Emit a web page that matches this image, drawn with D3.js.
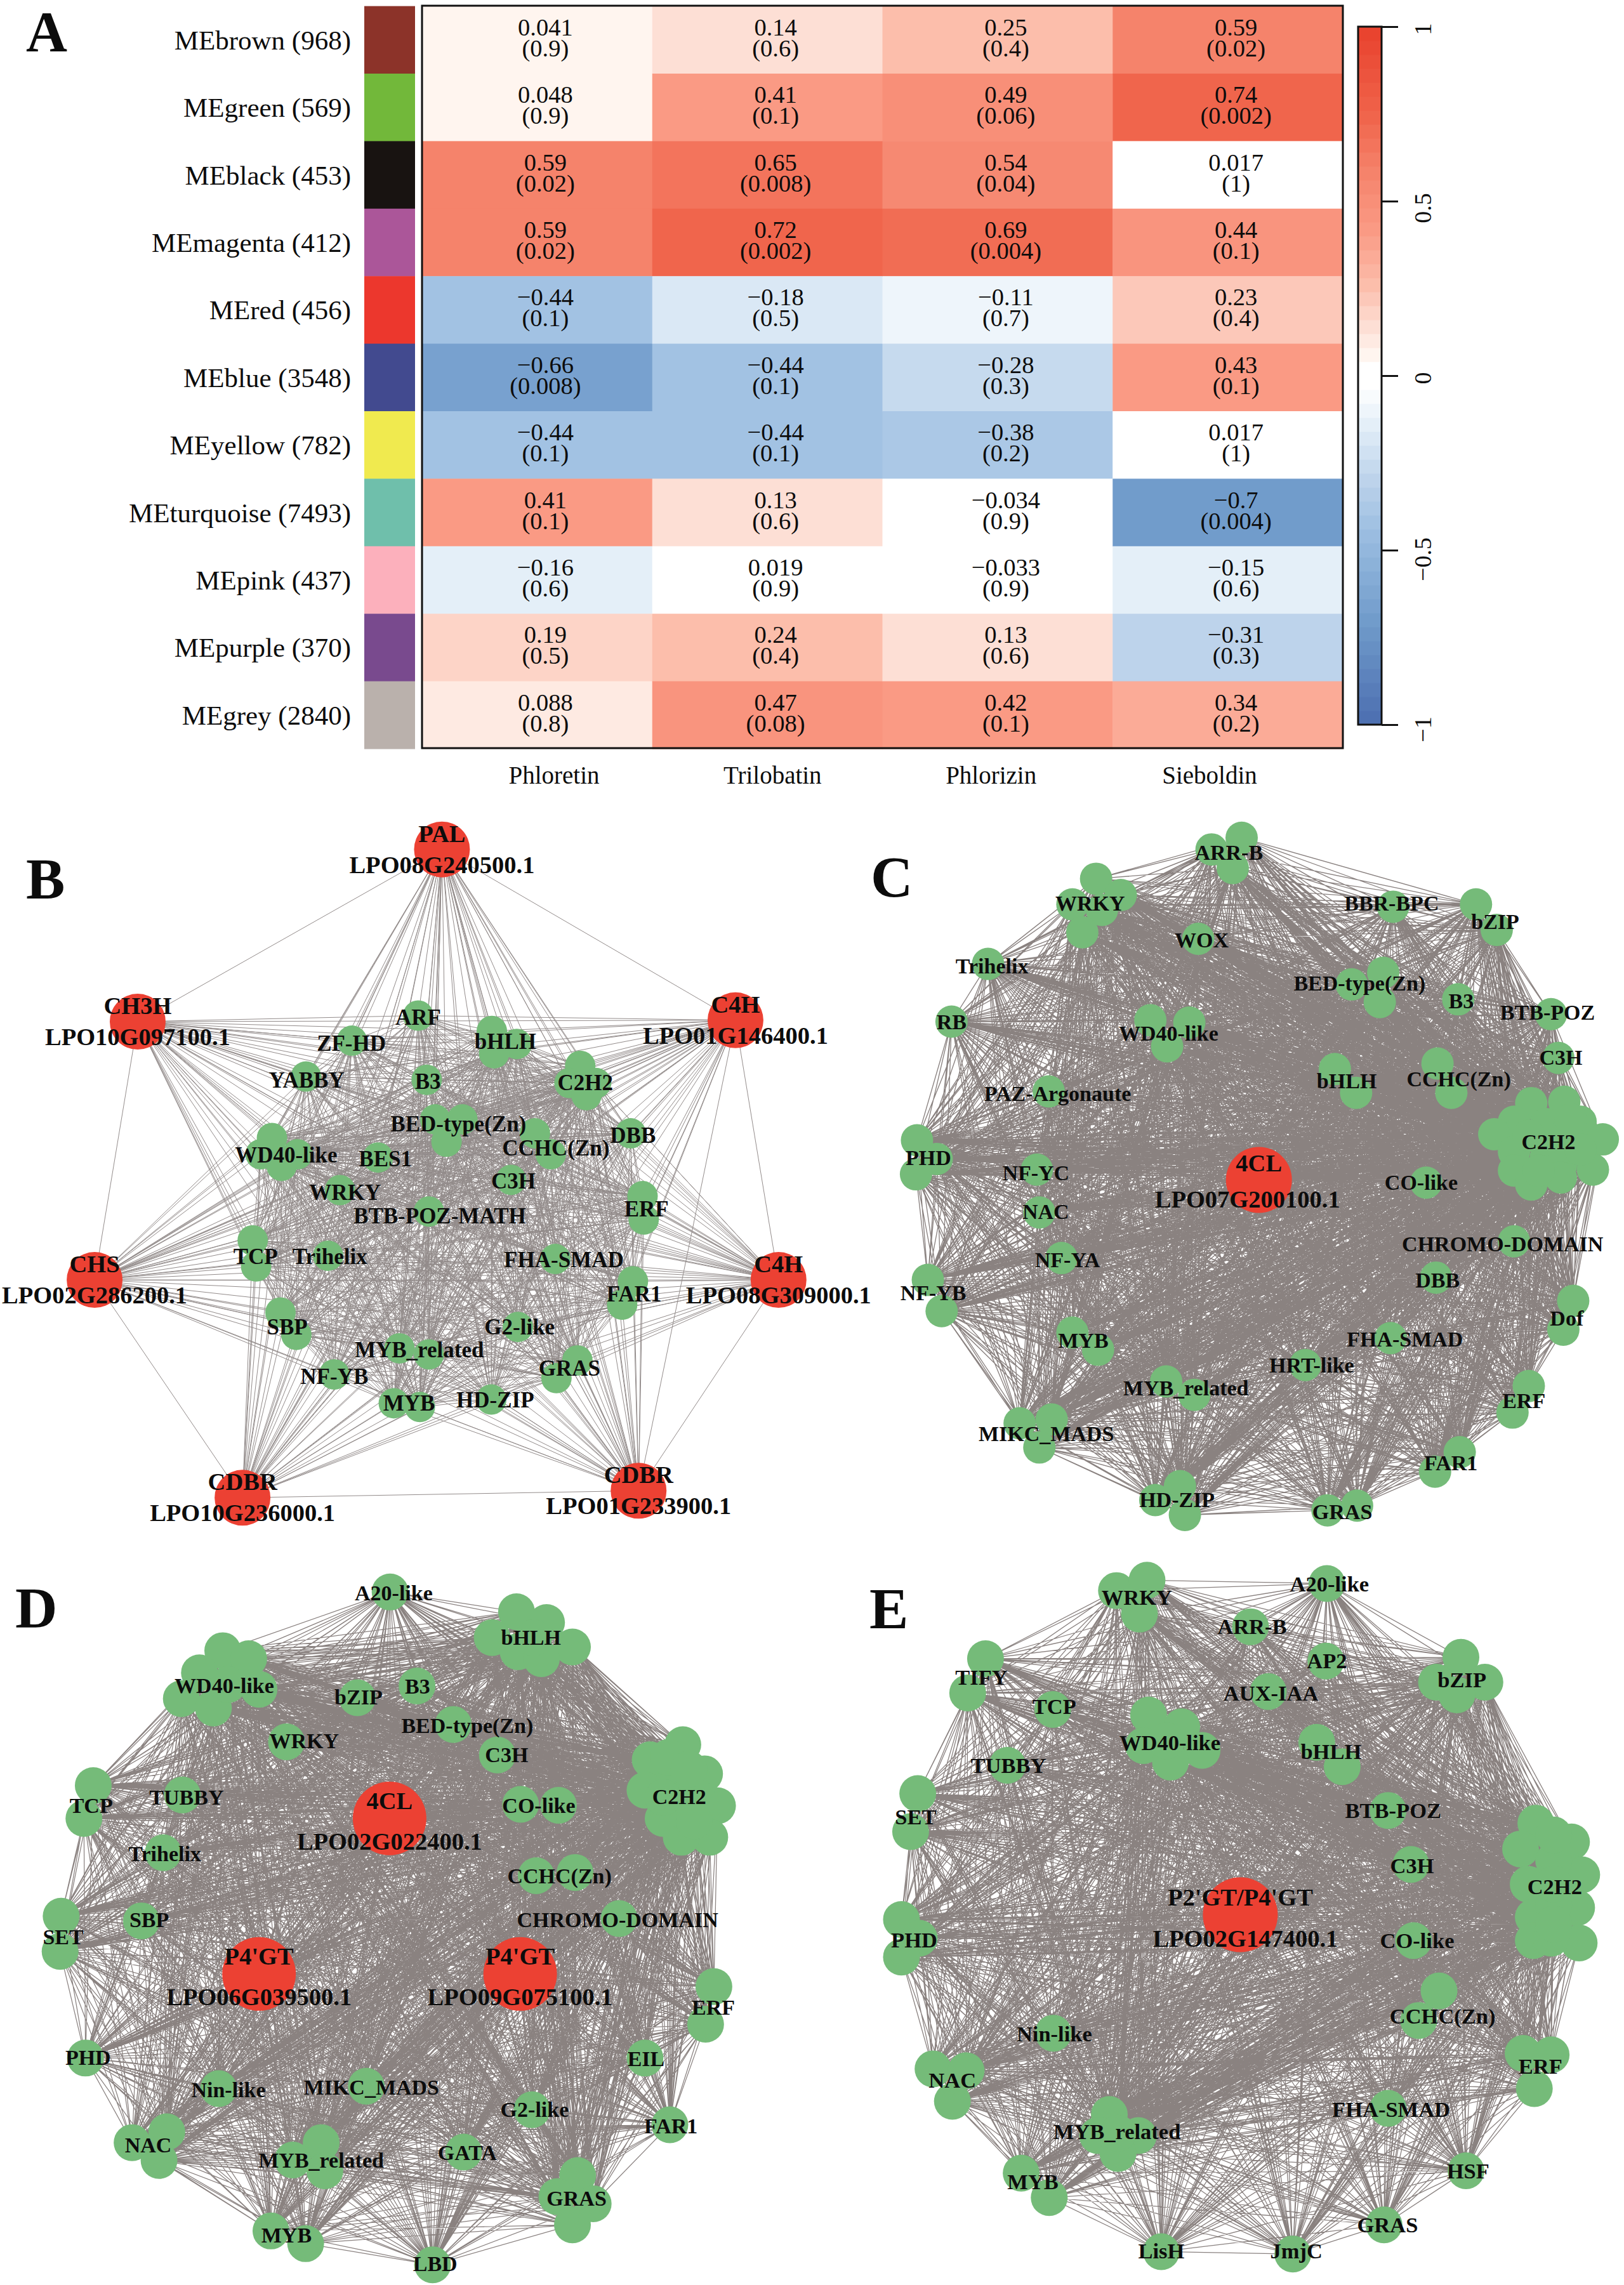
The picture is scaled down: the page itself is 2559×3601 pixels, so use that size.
<!DOCTYPE html>
<html><head><meta charset="utf-8">
<script src="https://cdn.jsdelivr.net/npm/d3@7"></script>
<style>html,body{margin:0;background:#fff}svg{display:block}text{font-family:"Liberation Serif",serif;fill:#0c0c0c}</style>
</head><body><svg id="c" width="2559" height="3601" viewBox="0 0 2559 3601"></svg>
<script>
// ---- Panel A data ----
const modules = ["MEbrown (968)","MEgreen (569)","MEblack (453)","MEmagenta (412)","MEred (456)","MEblue (3548)","MEyellow (782)","MEturquoise (7493)","MEpink (437)","MEpurple (370)","MEgrey (2840)"];
const moduleColors = ["#8c3329","#72b83a","#181311","#ab5699","#ec372d","#424a8f","#f0ea4f","#6fbfab","#fcb0bc","#794a8e","#bab1ac"];
const compounds = ["Phloretin","Trilobatin","Phlorizin","Sieboldin"];
const corPhloretin  = [0.041,0.048,0.59,0.59,-0.44,-0.66,-0.44,0.41,-0.16,0.19,0.088];
const corTrilobatin = [0.14,0.41,0.65,0.72,-0.18,-0.44,-0.44,0.13,0.019,0.24,0.47];
const corPhlorizin  = [0.25,0.49,0.54,0.69,-0.11,-0.28,-0.38,-0.034,-0.033,0.13,0.42];
const corSieboldin  = [0.59,0.74,0.017,0.44,0.23,0.43,0.017,-0.7,-0.15,-0.31,0.34];
const pPhloretin  = ["0.9","0.9","0.02","0.02","0.1","0.008","0.1","0.1","0.6","0.5","0.8"];
const pTrilobatin = ["0.6","0.1","0.008","0.002","0.5","0.1","0.1","0.6","0.9","0.4","0.08"];
const pPhlorizin  = ["0.4","0.06","0.04","0.004","0.7","0.3","0.2","0.9","0.9","0.6","0.1"];
const pSieboldin  = ["0.02","0.002","1","0.1","0.4","0.1","1","0.004","0.6","0.3","0.2"];
const colorbarTicks = [-1,-0.5,0,0.5,1];
const rampStops  = [-1,-0.7,-0.44,-0.28,-0.16,-0.03,0.03,0.06,0.14,0.25,0.41,0.59,0.74,1];
const rampColors = ["#4b6eb0","#719ccb","#9dbfe2","#c1d6ec","#dfecf7","#ffffff","#ffffff","#fff5ef","#fddfd5","#fcc0ae","#fa9b85","#f5826a","#f0654c","#e8412d"];

// ---- Network data: [family, labelX, labelY, members] in layout units of each panel ----
const panelBHubs = [["PAL","LPO08G240500.1",780,80],["CH3H","LPO10G097100.1",243,450],["C4H","LPO01G146400.1",1298,447],["CHS","LPO02G286200.1",167,1005],["C4H","LPO08G309000.1",1374,1005],["CDBR","LPO10G236000.1",428,1473],["CDBR","LPO01G233900.1",1127,1458]];
const panelBHubLinks = [[0,1],[0,2],[1,2],[1,3],[2,4],[3,4],[3,5],[4,6],[5,6],[2,6]];
const panelBFamilies = [
["ARF",738,440,[[738,437]]],["ZF-HD",620,496,[[621,491]]],["bHLH",892,492,[[868,470],[912,498],[872,518]]],["YABBY",541,575,[[540,568]]],["B3",755,578,[[753,575]]],
["C2H2",1033,581,[[1024,545],[1005,582],[1052,582],[1035,608]]],["BED-type(Zn)",809,670,[[768,660],[816,660],[788,708]]],["DBB",1117,694,[[1113,690]]],["CCHC(Zn)",981,722,[[944,690],[972,735]]],
["WD40-like",505,737,[[480,700],[460,735],[497,760],[525,735]]],["BES1",680,745,[[667,742]]],["C3H",906,792,[[902,790]]],["WRKY",609,817,[[600,812]]],["BTB-POZ-MATH",776,867,[[757,858]]],
["ERF",1141,852,[[1134,825],[1136,875]]],["TCP",451,955,[[446,920],[452,976]]],["Trihelix",582,955,[[579,953]]],["FHA-SMAD",995,962,[[980,960]]],["FAR1",1119,1035,[[1117,1008],[1098,1058]]],
["SBP",507,1106,[[495,1075],[523,1123]]],["G2-like",917,1106,[[914,1106]]],["MYB_related",740,1155,[[705,1152],[757,1165]]],["GRAS",1005,1195,[[1019,1178],[982,1216]]],["NF-YB",590,1212,[[590,1208]]],
["HD-ZIP",874,1263,[[867,1262]]],["MYB",722,1270,[[695,1270],[741,1278]]]];

const panelCHubs = [["4CL","LPO07G200100.1",828,790]];
const panelCFamilies = [
["ARR-B",767,86,[[793,55],[732,80],[775,120]]],["WRKY",486,195,[[498,143],[548,178],[450,198],[510,210],[470,258]]],["BBR-BPC",1097,195,[[1100,203]]],["bZIP",1307,235,[[1268,198],[1310,253]]],["WOX",712,274,[[705,272]]],
["Trihelix",287,330,[[279,326]]],["BED-type(Zn)",1032,367,[[1016,370],[1080,345],[1073,408]]],["B3",1238,405,[[1232,402]]],["BTB-POZ",1413,430,[[1420,434]]],["RB",205,450,[[205,450]]],
["WD40-like",645,475,[[608,447],[687,452],[642,503]]],["C3H",1440,527,[[1435,528]]],["bHLH",1006,578,[[982,552],[1025,603]]],["CCHC(Zn)",1233,573,[[1190,540],[1218,603]]],["PAZ-Argonaute",420,605,[[402,600]]],
["C2H2",1415,708,[[1380,625],[1447,622],[1345,665],[1305,692],[1410,670],[1480,665],[1525,703],[1345,730],[1410,740],[1440,760],[1505,768],[1345,770],[1380,800],[1440,785],[1375,695],[1440,700],[1480,725],[1395,770],[1460,660]]],
["PHD",158,742,[[135,705],[175,745],[133,778]]],["NF-YC",376,775,[[378,768]]],["CO-like",1157,795,[[1167,796]]],["NAC",396,858,[[383,860]]],["CHROMO-DOMAIN",1322,928,[[1345,922]]],["NF-YA",440,962,[[428,958]]],["DBB",1190,1005,[[1187,1000]]],
["NF-YB",168,1033,[[157,1005],[185,1072]]],["Dof",1452,1087,[[1465,1050],[1445,1112]]],["MYB",472,1135,[[450,1118],[502,1155]]],["FHA-SMAD",1124,1132,[[1095,1130]]],["HRT-like",935,1188,[[922,1188]]],["MYB_related",680,1237,[[640,1223],[697,1252]]],
["ERF",1365,1265,[[1375,1233],[1342,1290]]],["MIKC_MADS",397,1335,[[343,1313],[408,1305],[383,1365]]],["FAR1",1217,1398,[[1235,1375],[1185,1417]]],["HD-ZIP",662,1477,[[668,1448],[618,1478],[678,1510]]],["GRAS",997,1503,[[967,1500],[1027,1490]]]];

const panelDHubs = [["4CL","LPO02G022400.1",752,575],["P4'GT","LPO06G039500.1",500,906],["P4'GT","LPO09G075100.1",1004,906]];
const panelDFamilies = [
["A20-like",760,95,[[753,93]]],["bHLH",1025,190,[[997,135],[1055,158],[950,190],[1105,210],[1000,220],[1045,235],[1030,190]]],["WD40-like",433,292,[[430,218],[480,235],[385,265],[350,320],[500,300],[412,340],[440,290]]],["B3",806,293,[[805,293]]],["bZIP",692,317,[[690,318]]],
["BED-type(Zn)",902,377,[[875,375]]],["WRKY",587,410,[[553,412]]],["C3H",978,439,[[960,440]]],["C2H2",1311,528,[[1318,418],[1255,450],[1360,480],[1245,515],[1385,548],[1280,575],[1370,615],[1315,615],[1300,500],[1310,555],[1345,530],[1290,445],[1340,580],[1280,530],[1330,470]]],
["TCP",176,548,[[180,505],[162,575]]],["TUBBY",360,530,[[352,525]]],["CO-like",1040,548,[[1005,545],[1078,547]]],["Trihelix",318,650,[[315,648]]],["CCHC(Zn)",1080,697,[[1035,697],[1110,690]]],["SBP",288,790,[[273,793]]],["CHROMO-DOMAIN",1192,790,[[1195,788]]],
["SET",122,827,[[118,783],[116,858]]],["ERF",1377,977,[[1378,933],[1362,1013]]],["PHD",170,1084,[[165,1085]]],["EIL",1247,1086,[[1245,1085]]],["Nin-like",441,1152,[[422,1150]]],["MIKC_MADS",717,1147,[[707,1145]]],["G2-like",1032,1195,[[1027,1195]]],["FAR1",1295,1230,[[1293,1227]]],
["NAC",286,1270,[[255,1265],[322,1242],[307,1303]]],["MYB_related",620,1303,[[620,1265],[565,1302],[627,1325]]],["GATA",902,1287,[[895,1285]]],["GRAS",1113,1384,[[1115,1335],[1075,1380],[1145,1395],[1105,1440]]],["MYB",553,1462,[[523,1453],[590,1480]]],["LBD",840,1523,[[835,1525]]]];

const panelEHubs = [["P2'GT/P4'GT","LPO02G147400.1",815,780]];
const panelEFamilies = [
["WRKY",612,105,[[572,90],[632,68],[617,140]]],["A20-like",990,76,[[985,75]]],["ARR-B",838,167,[[835,167]]],["AP2",985,240,[[983,240]]],["bZIP",1250,280,[[1248,232],[1200,285],[1295,285],[1240,312]]],["TIFY",307,275,[[315,235],[280,308]]],["AUX-IAA",875,308,[[870,305]]],["TCP",450,336,[[447,343]]],
["WD40-like",677,413,[[635,355],[700,380],[625,420],[740,430],[678,455],[670,410]]],["bHLH",993,433,[[965,413],[1015,465]]],["TUBBY",360,462,[[358,462]]],["SET",178,572,[[182,522],[168,603]]],["BTB-POZ",1115,558,[[1105,558]]],
["C2H2",1432,720,[[1395,585],[1465,625],[1365,640],[1485,695],[1380,715],[1475,765],[1390,785],[1480,840],[1390,835],[1430,760],[1430,665],[1425,830],[1430,610],[1430,715],[1430,800]]],["C3H",1152,675,[[1150,673]]],["PHD",175,833,[[150,790],[185,830],[150,870]]],["CO-like",1162,835,[[1155,835]]],["CCHC(Zn)",1212,996,[[1205,942],[1165,1005]]],["Nin-like",450,1033,[[448,1032]]],
["ERF",1404,1103,[[1370,1075],[1425,1078],[1392,1150]]],["NAC",250,1132,[[212,1108],[277,1112],[250,1177]]],["FHA-SMAD",1111,1194,[[1105,1192]]],["MYB_related",573,1241,[[558,1205],[535,1250],[615,1250],[575,1288],[575,1245]]],["HSF",1262,1325,[[1258,1325]]],["MYB",408,1348,[[385,1330],[440,1382]]],["GRAS",1104,1440,[[1097,1440]]],["LisH",660,1495,[[660,1497]]],["JmjC",925,1495,[[918,1502]]]];

const svg = d3.select("#c");
const minus = s => String(s).replace("-","\u2212");

// ---- Panel A ----
(function(){
  const corr=[corPhloretin,corTrilobatin,corPhlorizin,corSieboldin], pv=[pPhloretin,pTrilobatin,pPhlorizin,pSieboldin];
  const x=d3.scaleBand().domain(compounds).range([665,2116]);
  const y=d3.scaleBand().domain(modules).range([9.6,1180]);
  const ramp=d3.scaleLinear().domain(rampStops).range(rampColors).interpolate(d3.interpolateRgb);
  const bands=50, step=2/bands;
  const band=i=>-1+step*(i+0.5);
  const col=v=>ramp(band(Math.min(bands-1,Math.floor((v+1)/step))));
  const A=svg.append("g").attr("id","panelA");
  A.append("text").text("A").attr("x",41).attr("y",81).attr("font-size",90).attr("font-weight",700);
  A.selectAll(".sw").data(modules).join("rect").attr("x",574).attr("width",80).attr("y",d=>y(d)).attr("height",y.bandwidth()+.5).attr("fill",(d,i)=>moduleColors[i]);
  A.selectAll(".rl").data(modules).join("text").text(d=>d).attr("x",553).attr("y",d=>y(d)+y.bandwidth()/2+15).attr("text-anchor","end").attr("font-size",43);
  compounds.forEach((c,ci)=>{
    const g=A.append("g");
    g.selectAll("rect").data(modules).join("rect").attr("x",x(c)).attr("width",x.bandwidth()+.5).attr("y",d=>y(d)).attr("height",y.bandwidth()+.5).attr("fill",(d,i)=>col(corr[ci][i]));
    g.selectAll(".v").data(modules).join("text").text((d,i)=>minus(corr[ci][i])).attr("x",x(c)+x.bandwidth()/2+13).attr("y",d=>y(d)+y.bandwidth()/2-7).attr("text-anchor","middle").attr("font-size",38.5);
    g.selectAll(".p").data(modules).join("text").text((d,i)=>"("+pv[ci][i]+")").attr("x",x(c)+x.bandwidth()/2+13).attr("y",d=>y(d)+y.bandwidth()/2+26).attr("text-anchor","middle").attr("font-size",38.5);
  });
  A.append("rect").attr("x",665).attr("y",9).attr("width",1451).attr("height",1170).attr("fill","none").attr("stroke","#111").attr("stroke-width",3);
  const xl=d3.scalePoint().domain(compounds).range([873,1906]);
  A.selectAll(".xl").data(compounds).join("text").text(d=>d).attr("x",d=>xl(d)).attr("y",1235).attr("text-anchor","middle").attr("font-size",39);
  // colour bar
  const cy=d3.scaleLinear().domain([-1,1]).range([1142,42]);
  A.selectAll(".cb").data(d3.range(bands)).join("rect").attr("x",2140).attr("width",37).attr("y",i=>cy(band(i)+step/2)).attr("height",i=>cy(band(i)-step/2)-cy(band(i)+step/2)+.5).attr("fill",i=>ramp(band(i)));
  A.append("rect").attr("x",2140).attr("y",42).attr("width",37).attr("height",1100).attr("fill","none").attr("stroke","#111").attr("stroke-width",3);
  const ax=A.append("g").attr("transform","translate(2177,0)").call(d3.axisRight(cy).tickValues(colorbarTicks).tickSize(26).tickFormat(d=>minus(d)));
  ax.select(".domain").remove();
  ax.selectAll("line").attr("stroke","#111").attr("stroke-width",3);
  ax.selectAll("text").each(function(d){
    const t=minus(d); d3.select(this).attr("x",null).attr("dy",null).attr("font-size",38).attr("text-anchor","middle")
      .style("font-family","Liberation Serif").style("fill","#0c0c0c")
      .attr("transform",`translate(${78},${t.length*3.5}) rotate(-90)`);
  });
})();

// ---- Networks ----
function network(id,letter,lx,ly,frame,hubs,families,opt){
  const sx=d3.scaleLinear().domain([0,1568]).range([frame[0],frame[0]+frame[2]]);
  const sy=d3.scaleLinear().domain([0,1568]).range([frame[1],frame[1]+frame[3]]);
  const greens=families.flatMap(f=>f[3].map(p=>({x:sx(p[0]),y:sy(p[1])})));
  const reds=hubs.map(h=>({x:sx(h[2]),y:sy(h[3])}));
  const g=svg.append("g").attr("id",id);
  let links=[];
  if(opt.hubLinks){ opt.hubLinks.forEach(l=>links.push([reds[l[0]],reds[l[1]]])); }
  else { reds.forEach((a,i)=>reds.forEach((b,j)=>{if(j>i)links.push([a,b]);})); }
  d3.cross(reds,greens).forEach(l=>links.push(l));
  greens.forEach((a,i)=>greens.forEach((b,j)=>{if(j>i)links.push([a,b]);}));
  g.append("path").attr("fill","none").attr("stroke",opt.edge).attr("stroke-width",opt.ew)
    .attr("d",links.map(l=>`M${l[0].x.toFixed(1)},${l[0].y.toFixed(1)}L${l[1].x.toFixed(1)},${l[1].y.toFixed(1)}`).join(""));
  g.selectAll(".g").data(greens).join("circle").attr("cx",d=>d.x).attr("cy",d=>d.y).attr("r",opt.rg).attr("fill","#75bb79");
  g.selectAll(".r").data(reds).join("circle").attr("cx",d=>d.x).attr("cy",d=>d.y).attr("r",opt.rr).attr("fill","#ec4133");
  g.selectAll(".fl").data(families).join("text").text(d=>d[0]).attr("x",d=>sx(d[1])).attr("y",d=>sy(d[2])).attr("dy","0.34em").attr("text-anchor","middle").attr("font-size",opt.fs).attr("font-weight",700);
  hubs.forEach((h,i)=>{
    g.append("text").text(h[0]).attr("x",reds[i].x).attr("y",reds[i].y-opt.off1).attr("dy","0.34em").attr("text-anchor","middle").attr("font-size",38.5).attr("font-weight",700);
    g.append("text").text(h[1]).attr("x",reds[i].x-(opt.dx||0)).attr("y",reds[i].y+opt.off2).attr("dy","0.34em").attr("text-anchor","middle").attr("font-size",38.5).attr("font-weight",700);
  });
  g.append("text").text(letter).attr("x",lx).attr("y",ly).attr("font-size",92).attr("font-weight",700);
}
network("panelB","B",41,1416,[0,1280,1400,1150],panelBHubs,panelBFamilies,{edge:"#938c8b",ew:1.0,rg:24,rr:44,fs:35,off1:25,off2:24,hubLinks:panelBHubLinks});
network("panelC","C",1372,1413,[1340,1280,1219,1150],panelCHubs,panelCFamilies,{edge:"#8a8280",ew:1.35,rg:25.5,rr:52,fs:34,off1:26,off2:31,dx:18});
network("panelD","D",24,2565,[0,2440,1280,1161],panelDHubs,panelDFamilies,{edge:"#8a8280",ew:1.25,rg:29,rr:58,fs:34,off1:28,off2:36});
network("panelE","E",1370,2566,[1300,2440,1259,1161],panelEHubs,panelEFamilies,{edge:"#8a8280",ew:1.3,rg:29,rr:59,fs:34.5,off1:28,off2:37,dx:-8});
</script></body></html>
